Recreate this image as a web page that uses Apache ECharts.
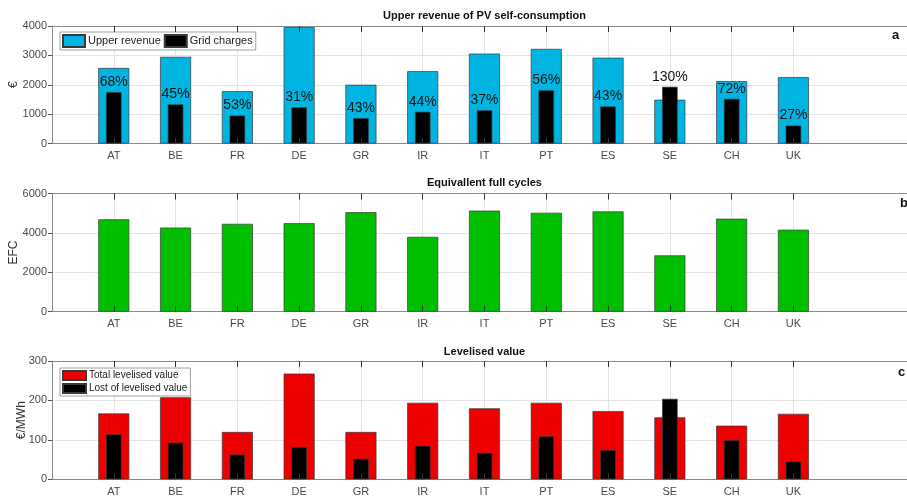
<!DOCTYPE html>
<html>
<head>
<meta charset="utf-8">
<script src="https://cdn.jsdelivr.net/npm/echarts@6/dist/echarts.min.js"></script>
<style>
  html, body { margin: 0; padding: 0; background: #fff; }
  #chart { width: 907px; height: 498px; }
</style>
</head>
<body>
<div id="chart"></div>
<script>
// Countries shown on every panel
const countries = ['AT', 'BE', 'FR', 'DE', 'GR', 'IR', 'IT', 'PT', 'ES', 'SE', 'CH', 'UK'];

// Panel a: upper revenue of PV self-consumption and grid charges (€)
const upperRevenue = [2570, 2950, 1780, 3960, 2000, 2460, 3060, 3220, 2920, 1490, 2120, 2260];
const gridCharges  = [1750, 1330,  950, 1230,  860, 1080, 1130, 1810, 1260, 1930, 1520,  610];

// Panel b: equivalent full cycles
const efc = [4690, 4270, 4460, 4490, 5050, 3800, 5130, 5020, 5090, 2860, 4720, 4160];

// Panel c: levelised value (€/MWh)
const totalLevelised = [167, 208, 120, 268, 120, 194, 180, 194, 173, 157, 136, 166];
const lostLevelised  = [114,  93,  63,  82,  52,  85,  67, 109,  74, 204,  99,  45];

// Y-axis ticks
const yTicksA = { min: 0, max: 4000, interval: 1000 };
const yTicksB = { min: 0, max: 6000, interval: 2000 };
const yTicksC = { min: 0, max: 300, interval: 100 };

const FONT = "'Liberation Sans', Arial, Helvetica, sans-serif";
const N = countries.length;

// One empty slot before the first country and two after the last one
const axisCats = [''].concat(countries, ['', '']);
const pad = arr => [null].concat(arr, [null, null]);
const isCountry = i => i >= 1 && i <= N;

// The plot boxes run slightly past the right edge of the canvas
const gridBase = { left: 52, width: 865, containLabel: false, outerBoundsMode: 'none' };
const grids = [
  Object.assign({ top: 26, height: 117.5 }, gridBase),
  Object.assign({ top: 193.5, height: 118.2 }, gridBase),
  Object.assign({ top: 361, height: 118.3 }, gridBase)
];

function xAxesFor(g) {
  return [
    { // labels, axis line, vertical grid lines
      type: 'category', gridIndex: g, position: 'bottom', data: axisCats, boundaryGap: false,
      axisLine: { lineStyle: { color: '#8a8a8a', width: 1 } },
      axisTick: { show: false },
      axisLabel: { interval: 0, color: '#4a4a4a', fontFamily: FONT, fontSize: 11, margin: 7 },
      splitLine: { show: true, interval: isCountry, lineStyle: { color: '#e4e4e4', width: 1 } }
    },
    { // inner bottom ticks, drawn above the bars
      type: 'category', gridIndex: g, position: 'bottom', data: axisCats, boundaryGap: false, z: 5,
      axisLine: { show: false },
      axisTick: { show: true, inside: true, length: 6, interval: isCountry, lineStyle: { color: '#333' } },
      axisLabel: { show: false },
      splitLine: { show: false }
    },
    { // top border with inner ticks
      type: 'category', gridIndex: g, position: 'top', data: axisCats, boundaryGap: false, z: 5,
      axisLine: { lineStyle: { color: '#8a8a8a', width: 1 } },
      axisTick: { show: true, inside: true, length: 6, interval: isCountry, lineStyle: { color: '#333' } },
      axisLabel: { show: false },
      splitLine: { show: false }
    }
  ];
}

function yAxisFor(g, ticks, name, nameGap) {
  return {
    type: 'value', gridIndex: g, min: ticks.min, max: ticks.max, interval: ticks.interval,
    name: name, nameLocation: 'middle', nameRotate: 90, nameGap: nameGap, nameMoveOverlap: false,
    nameTextStyle: { color: '#333', fontFamily: FONT, fontSize: 12 },
    axisLine: { show: true, lineStyle: { color: '#8a8a8a', width: 1 } },
    axisTick: { show: true, length: 4, lineStyle: { color: '#555' } },
    axisLabel: { color: '#4a4a4a', fontFamily: FONT, fontSize: 11, margin: 5, formatter: v => String(v) },
    splitLine: { show: true, lineStyle: { color: '#e4e4e4', width: 1 } }
  };
}

const edge = { borderColor: '#3a3a3a', borderWidth: 0.7 };

const option = {
  animation: false,
  backgroundColor: '#fff',
  grid: grids,
  xAxis: [].concat(xAxesFor(0), xAxesFor(1), xAxesFor(2)),
  yAxis: [
    yAxisFor(0, yTicksA, '€', 32),
    yAxisFor(1, yTicksB, 'EFC', 32),
    yAxisFor(2, yTicksC, '€/MWh', 24)
  ],
  legend: [
    {
      data: ['Upper revenue', 'Grid charges'], left: 60, top: 32, orient: 'horizontal',
      itemWidth: 22, itemHeight: 12, itemGap: 3, padding: [2, 3, 2, 2],
      backgroundColor: '#fff', borderColor: '#8a8a8a', borderWidth: 0.8,
      icon: 'rect', selectedMode: false,
      textStyle: { color: '#222', fontFamily: FONT, fontSize: 11, padding: [0, 0, 0, -2] }
    },
    {
      data: ['Total levelised value', 'Lost of levelised value'], left: 60, top: 368, orient: 'vertical',
      itemWidth: 23, itemHeight: 9, itemGap: 2, padding: [2, 3, 2, 2],
      backgroundColor: '#fff', borderColor: '#8a8a8a', borderWidth: 0.8,
      icon: 'rect', selectedMode: false,
      textStyle: { color: '#222', fontFamily: FONT, fontSize: 10, padding: [0, 0, 0, -2] }
    }
  ],
  graphic: [
    { type: 'text', x: 484.5, y: 16, style: { text: 'Upper revenue of PV self-consumption', align: 'center', verticalAlign: 'middle', font: 'bold 11px ' + FONT, fill: '#111' } },
    { type: 'text', x: 484.5, y: 183, style: { text: 'Equivallent full cycles', align: 'center', verticalAlign: 'middle', font: 'bold 11px ' + FONT, fill: '#111' } },
    { type: 'text', x: 484.5, y: 352, style: { text: 'Levelised value', align: 'center', verticalAlign: 'middle', font: 'bold 11px ' + FONT, fill: '#111' } },
    { type: 'text', x: 892, y: 35, style: { text: 'a', align: 'left', verticalAlign: 'middle', font: 'bold 13px ' + FONT, fill: '#111' } },
    { type: 'text', x: 900, y: 203, style: { text: 'b', align: 'left', verticalAlign: 'middle', font: 'bold 13px ' + FONT, fill: '#111' } },
    { type: 'text', x: 898, y: 372, style: { text: 'c', align: 'left', verticalAlign: 'middle', font: 'bold 13px ' + FONT, fill: '#111' } }
  ],
  series: [
    {
      name: 'Upper revenue', type: 'bar', xAxisIndex: 0, yAxisIndex: 0, barWidth: 31,
      itemStyle: Object.assign({ color: '#00B4E1' }, edge),
      data: pad(upperRevenue)
    },
    {
      name: 'Grid charges', type: 'bar', xAxisIndex: 1, yAxisIndex: 0, barWidth: 15.5,
      itemStyle: Object.assign({ color: '#000' }, edge),
      label: {
        show: true, position: 'top', distance: 3, color: '#151515', fontFamily: FONT, fontSize: 14,
        formatter: p => Math.round(gridCharges[p.dataIndex - 1] / upperRevenue[p.dataIndex - 1] * 100) + '%'
      },
      data: pad(gridCharges)
    },
    {
      name: 'EFC', type: 'bar', xAxisIndex: 3, yAxisIndex: 1, barWidth: 31,
      itemStyle: Object.assign({ color: '#00BF00' }, edge),
      data: pad(efc)
    },
    {
      name: 'Total levelised value', type: 'bar', xAxisIndex: 6, yAxisIndex: 2, barWidth: 31,
      itemStyle: Object.assign({ color: '#EE0000' }, edge),
      data: pad(totalLevelised)
    },
    {
      name: 'Lost of levelised value', type: 'bar', xAxisIndex: 7, yAxisIndex: 2, barWidth: 15.5,
      itemStyle: Object.assign({ color: '#000' }, edge),
      data: pad(lostLevelised)
    }
  ]
};

const chart = echarts.init(document.getElementById('chart'), null, { renderer: 'canvas' });
chart.setOption(option);
</script>
</body>
</html>
